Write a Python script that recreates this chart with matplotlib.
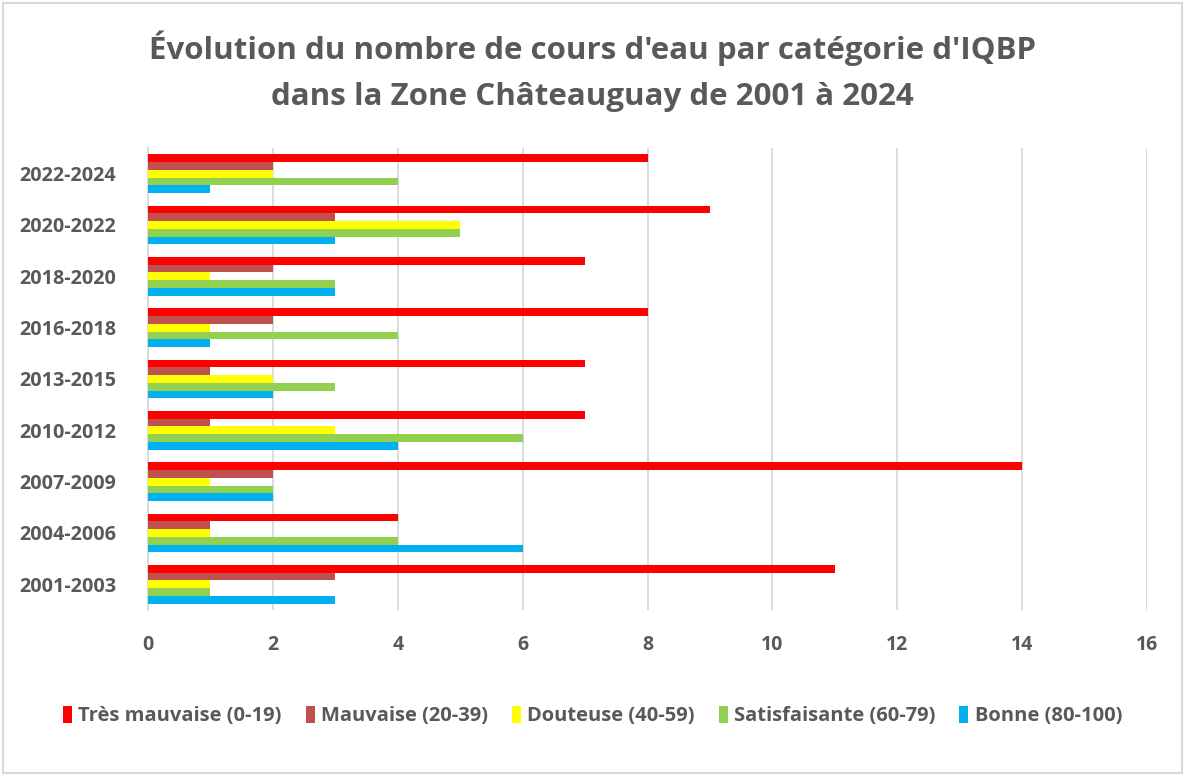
import matplotlib
matplotlib.use("Agg")
import matplotlib.pyplot as plt
import numpy as np
from matplotlib.patches import Rectangle

periods = ["2001-2003", "2004-2006", "2007-2009", "2010-2012", "2013-2015",
           "2016-2018", "2018-2020", "2020-2022", "2022-2024"]
series_names = ["Très mauvaise (0-19)", "Mauvaise (20-39)", "Douteuse (40-59)",
                "Satisfaisante (60-79)", "Bonne (80-100)"]
tres_mauvaise = [11, 4, 14, 7, 7, 8, 7, 9, 8]
mauvaise = [3, 1, 2, 1, 1, 2, 2, 3, 2]
douteuse = [1, 1, 1, 3, 2, 1, 1, 5, 2]
satisfaisante = [1, 4, 2, 6, 3, 4, 3, 5, 4]
bonne = [3, 6, 2, 4, 2, 1, 3, 3, 1]
colors = ["#FF0000", "#C0504D", "#FFFF00", "#92D050", "#00B0F0"]
xticks = [0, 2, 4, 6, 8, 10, 12, 14, 16]

plt.rcParams['font.family'] = ['Open Sans', 'DejaVu Sans']
fig = plt.figure(figsize=(11.85, 7.76), dpi=100)
ax = fig.add_axes([148/1185, 1-610/776, (1147-148)/1185, (610-148)/776])

data = [tres_mauvaise, mauvaise, douteuse, satisfaisante, bonne]
y = np.arange(len(periods))
h = 0.15
for i, (vals, c, name) in enumerate(zip(data, colors, series_names)):
    offs = (2 - i) * h
    ax.barh(y + offs, vals, height=h, color=c, label=name, zorder=3)

ax.set_xlim(0, 16)
ax.set_ylim(-0.5, len(periods) - 0.5)
ax.set_xticks(xticks)
ax.set_yticks(y)
ax.set_yticklabels(periods)
ax.grid(axis='x', color='#D9D9D9', linewidth=1.3, zorder=0)
for s in ['top', 'right', 'bottom']:
    ax.spines[s].set_visible(False)
ax.spines['left'].set_color('#D9D9D9')
ax.spines['left'].set_linewidth(1.3)
ax.tick_params(axis='both', length=0, labelcolor='#595959')
ax.tick_params(axis='x', labelsize=14, pad=18)
ax.tick_params(axis='y', labelsize=14.2, pad=23)
for lab in ax.get_xticklabels() + ax.get_yticklabels():
    lab.set_fontweight('bold')

fig.text(0.5, 1-48/776, "Évolution du nombre de cours d'eau par catégorie d'IQBP",
         ha='center', va='center', fontsize=22.5, fontweight='bold', color='#595959')
fig.text(0.5, 1-97/776, "dans la Zone Châteauguay de 2001 à 2024",
         ha='center', va='center', fontsize=22.5, fontweight='bold', color='#595959')

leg = fig.legend(loc='center', bbox_to_anchor=(0.5, 1-716/776), ncol=5, frameon=False,
                 handlelength=0.45, handleheight=0.9, handletextpad=0.3, columnspacing=1.2,
                 prop={'weight': 'bold', 'size': 14.5})
for t in leg.get_texts():
    t.set_color('#595959')

fig.patches.append(Rectangle((3/1185, 3/776), 1-6/1185, 1-6/776, transform=fig.transFigure,
                             fill=False, edgecolor='#D9D9D9', linewidth=1.5))
fig.savefig("out.png", dpi=100, facecolor='white')
